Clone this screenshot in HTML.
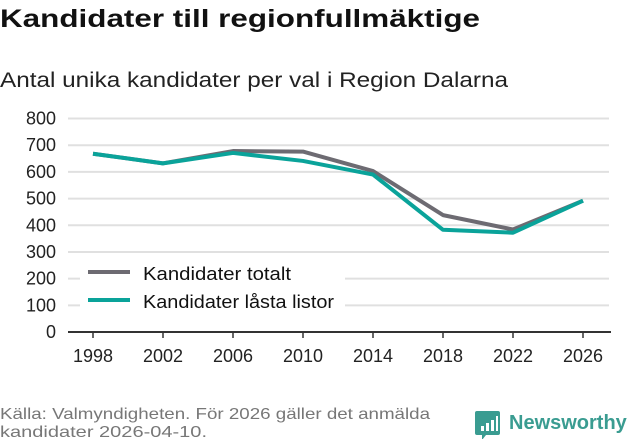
<!DOCTYPE html>
<html><head><meta charset="utf-8"><style>
body{margin:0;background:#fff;width:631px;height:439px;overflow:hidden;font-family:"Liberation Sans",sans-serif}
</style></head><body>
<svg id="chart" width="631" height="439" xmlns="http://www.w3.org/2000/svg">
<text x="0" y="27" font-size="25" font-weight="bold" fill="#111" textLength="480" lengthAdjust="spacingAndGlyphs">Kandidater till regionfullmäktige</text>
<text x="0" y="87" font-size="21" fill="#222" textLength="508" lengthAdjust="spacingAndGlyphs">Antal unika kandidater per val i Region Dalarna</text>
<g id="grid"></g><g id="lines"></g>
<g>
<rect x="80" y="258" width="265" height="60" fill="#fff"/>
<line x1="88" y1="272" x2="130" y2="272" stroke="#6d6b72" stroke-width="4"/>
<text x="143" y="280" font-size="18" fill="#111" textLength="148" lengthAdjust="spacingAndGlyphs">Kandidater totalt</text>
<line x1="88" y1="300" x2="130" y2="300" stroke="#0aa39a" stroke-width="4"/>
<text x="143" y="308" font-size="18" fill="#111" textLength="191" lengthAdjust="spacingAndGlyphs">Kandidater låsta listor</text>
</g>
<text x="0" y="419" font-size="16" fill="#777" textLength="430" lengthAdjust="spacingAndGlyphs">Källa: Valmyndigheten. För 2026 gäller det anmälda</text>
<text x="0" y="437" font-size="16" fill="#777" textLength="207" lengthAdjust="spacingAndGlyphs">kandidater 2026-04-10.</text>
<g>
<path d="M477 411 h21 a2 2 0 0 1 2 2 v20 a2 2 0 0 1 -2 2 h-12 l-4 5 v-5 h-5 a2 2 0 0 1 -2 -2 v-20 a2 2 0 0 1 2 -2z" fill="#3a9c91"/>
<rect x="481" y="426" width="3" height="5" fill="#fff"/><rect x="486" y="423" width="3" height="8" fill="#fff"/><rect x="491" y="420" width="3" height="11" fill="#fff"/><rect x="496" y="416" width="2" height="15" fill="#fff"/>
<text x="509" y="429" font-size="20" font-weight="bold" fill="#3a9c91">Newsworthy</text>
</g>
</svg>
<script>
const years=[1998,2002,2006,2010,2014,2018,2022,2026];
const totalt=[668,632,678,676,603,438,384,492];
const lasta=[668,632,671,641,590,383,372,492];
const yTicks=[0,100,200,300,400,500,600,700,800];
const NS="http://www.w3.org/2000/svg";
const x=y=>93+(y-1998)/(2026-1998)*(583-93);
const yS=v=>332-v/800*(332-118.5);
const grid=document.getElementById('grid'),lines=document.getElementById('lines');
function mk(t,a,p){const e=document.createElementNS(NS,t);for(const k in a)e.setAttribute(k,a[k]);p.appendChild(e);return e;}
yTicks.forEach(v=>{
 if(v>0){const l=mk('line',{x1:68,x2:609,y1:yS(v),y2:yS(v),stroke:'#e0e0e0','stroke-width':2},grid);
 
 }
 const t=mk('text',{x:56,y:yS(v)+6,'font-size':18,fill:'#222','text-anchor':'end'},grid);t.textContent=v;
 
 
});
const ax=mk('line',{x1:68,x2:611,y1:332,y2:332,stroke:'#333','stroke-width':2},grid);


years.forEach(yr=>{
 mk('line',{x1:x(yr),x2:x(yr),y1:332,y2:338,stroke:'#333','stroke-width':1.5},grid);
 const t=mk('text',{x:x(yr),y:362,'font-size':18,fill:'#222','text-anchor':'middle'},grid);t.textContent=yr;
 
 
});
function line(vals,col,name){
 const p=mk('polyline',{points:vals.map((v,i)=>x(years[i])+','+yS(v)).join(' '),fill:'none',stroke:col,'stroke-width':4,'stroke-linejoin':'round'},lines);
 
 
}
line(totalt,'#6d6b72','series-totalt');
line(lasta,'#0aa39a','series-lasta-listor');
</script>
</body></html>
